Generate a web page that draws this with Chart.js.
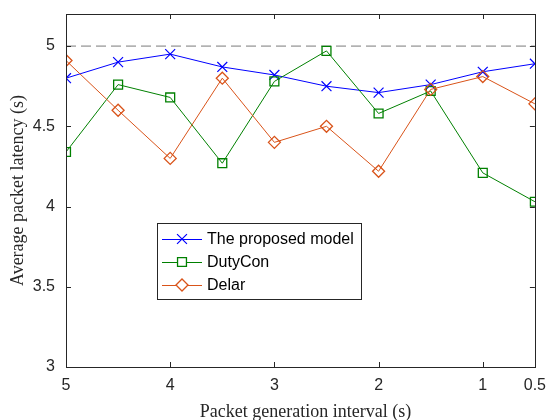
<!DOCTYPE html>
<html>
<head>
<meta charset="utf-8">
<script src="https://cdn.jsdelivr.net/npm/chart.js@4"></script>
<style>
  html, body { margin: 0; padding: 0; background: #fff; }
  #wrap { width: 555px; height: 420px; }
</style>
</head>
<body>
<div id="wrap"><canvas id="latencyChart" width="555" height="420"></canvas></div>
<script>
// packet generation interval (s), plotted right-to-left
const intervals = [5, 4.5, 4, 3.5, 3, 2.5, 2, 1.5, 1, 0.5];
const proposed = [4.80, 4.90, 4.95, 4.87, 4.82, 4.75, 4.71, 4.76, 4.84, 4.89];
const dutyCon = [4.34, 4.76, 4.68, 4.27, 4.78, 4.97, 4.58, 4.72, 4.21, 4.03];
const delar = [4.91, 4.60, 4.30, 4.80, 4.40, 4.50, 4.22, 4.73, 4.81, 4.64];
const refLevel = 5;
const xTicks = [5, 4, 3, 2, 1, 0.5];
const yTicks = [3, 3.5, 4, 4.5, 5];
const seriesNames = ['The proposed model', 'DutyCon', 'Delar'];

const axisColor = '#262626';
const tickFont = { family: 'Liberation Sans', size: 16 };

function toPoints(values) {
    return intervals.map((x, i) => ({ x: x, y: values[i] }));
}

// box around the plot with inward tick marks, like the original figure
const boxPlugin = {
    id: 'boxPlugin',
    afterDraw(chart) {
        const ctx = chart.ctx;
        const a = chart.chartArea;
        const xs = chart.scales.x;
        const ys = chart.scales.y;
        ctx.save();
        ctx.strokeStyle = axisColor;
        ctx.lineWidth = 1;
        ctx.strokeRect(Math.round(a.left) + 0.5, Math.round(a.top) + 0.5,
            Math.round(a.right - a.left), Math.round(a.bottom - a.top));
        ctx.beginPath();
        xTicks.forEach(v => {
            const px = Math.round(xs.getPixelForValue(v)) + 0.5;
            ctx.moveTo(px, a.bottom); ctx.lineTo(px, a.bottom - 5);
            ctx.moveTo(px, a.top); ctx.lineTo(px, a.top + 5);
        });
        yTicks.forEach(v => {
            const py = Math.round(ys.getPixelForValue(v)) + 0.5;
            ctx.moveTo(a.left, py); ctx.lineTo(a.left + 5, py);
            ctx.moveTo(a.right, py); ctx.lineTo(a.right - 5, py);
        });
        ctx.stroke();

        // axis titles
        ctx.fillStyle = axisColor;
        ctx.font = '18px "Liberation Serif"';
        ctx.textAlign = 'center';
        ctx.textBaseline = 'middle';
        ctx.fillText('Packet generation interval (s)', (a.left + a.right) / 2 + 5, 412);
        ctx.translate(18, (a.top + a.bottom) / 2);
        ctx.rotate(-Math.PI / 2);
        ctx.fillText('Average packet latency (s)', 0, 0);
        ctx.restore();

        // legend
        ctx.save();
        const lx = 157, ly = 223, lw = 204, lh = 76;
        ctx.fillStyle = '#fff';
        ctx.fillRect(lx, ly, lw, lh);
        ctx.strokeStyle = axisColor;
        ctx.lineWidth = 1;
        ctx.strokeRect(lx + 0.5, ly + 0.5, lw, lh);
        ctx.font = '16px "Liberation Sans"';
        ctx.textBaseline = 'middle';
        ctx.textAlign = 'left';
        const sets = chart.data.datasets.slice(0, 3);
        sets.forEach((ds, i) => {
            const y = 239 + i * 23;
            ctx.strokeStyle = ds.borderColor;
            ctx.lineWidth = 1;
            ctx.beginPath();
            ctx.moveTo(162, y + 0.5); ctx.lineTo(202, y + 0.5);
            ctx.stroke();
            ctx.lineWidth = ds.pointBorderWidth;
            ctx.fillStyle = '#fff';
            Chart.helpers.drawPoint(ctx, {
                pointStyle: ds.pointStyle,
                radius: ds.pointRadius,
                rotation: 0,
                borderWidth: ds.pointBorderWidth
            }, 182, y);
            ctx.fillStyle = '#000';
            ctx.fillText(seriesNames[i], 207, y + 1);
        });
        ctx.restore();
    }
};

new Chart(document.getElementById('latencyChart'), {
    type: 'line',
    data: {
        datasets: [
            {
                label: seriesNames[0],
                data: toPoints(proposed),
                borderColor: '#0000ff',
                backgroundColor: 'transparent',
                borderWidth: 1,
                pointStyle: 'crossRot',
                pointRadius: 7,
                pointBorderWidth: 1.2,
                pointBorderColor: '#0000ff',
                order: 3
            },
            {
                label: seriesNames[1],
                data: toPoints(dutyCon),
                borderColor: '#008000',
                backgroundColor: 'transparent',
                borderWidth: 1,
                pointStyle: 'rect',
                pointRadius: 6.3,
                pointBorderWidth: 1.3,
                pointBorderColor: '#008000',
                pointBackgroundColor: 'transparent',
                order: 2
            },
            {
                label: seriesNames[2],
                data: toPoints(delar),
                borderColor: '#d95319',
                backgroundColor: 'transparent',
                borderWidth: 1,
                pointStyle: 'rectRot',
                pointRadius: 6,
                pointBorderWidth: 1.3,
                pointBorderColor: '#d95319',
                pointBackgroundColor: 'transparent',
                order: 1
            },
            {
                label: 'reference',
                data: [{ x: intervals[0], y: refLevel }, { x: intervals[intervals.length - 1], y: refLevel }],
                borderColor: '#7a7a7a',
                borderWidth: 1,
                borderDash: [10, 5],
                pointRadius: 0,
                order: 4
            }
        ]
    },
    options: {
        responsive: false,
        animation: false,
        devicePixelRatio: 1,
        layout: { padding: { left: 0, right: 15, top: 14, bottom: 0 } },
        plugins: {
            legend: { display: false },
            tooltip: { enabled: false }
        },
        elements: { line: { tension: 0 } },
        scales: {
            x: {
                type: 'linear',
                reverse: true,
                min: 0.5,
                max: 5,
                grid: { display: false, drawTicks: false },
                border: { display: false },
                afterBuildTicks: s => { s.ticks = xTicks.map(v => ({ value: v })); },
                afterFit: s => { s.height = 53; },
                ticks: {
                    autoSkip: false,
                    maxRotation: 0,
                    padding: 9,
                    color: axisColor,
                    font: tickFont
                }
            },
            y: {
                min: 3,
                max: 5.2,
                grid: { display: false, drawTicks: false },
                border: { display: false },
                afterBuildTicks: s => { s.ticks = yTicks.map(v => ({ value: v })); },
                afterFit: s => { s.width = 66; s.paddingTop = 0; s.paddingBottom = 0; },
                ticks: {
                    padding: 11,
                    color: axisColor,
                    font: tickFont,
                    callback: v => String(v)
                }
            }
        }
    },
    plugins: [boxPlugin]
});
</script>
</body>
</html>
